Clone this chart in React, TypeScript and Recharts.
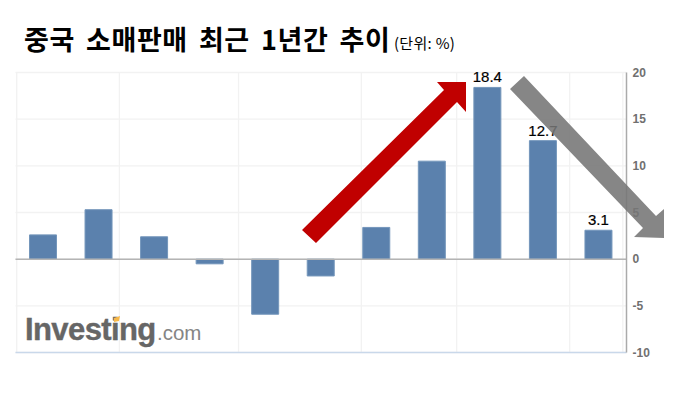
import React from 'react';
import { BarChart, Bar, XAxis, YAxis, CartesianGrid, ReferenceLine, LabelList } from 'recharts';

const months = ['22.07', '22.08', '22.09', '22.10', '22.11', '22.12', '23.02', '23.03', '23.04', '23.05', '23.06'];
const values = [2.6, 5.3, 2.4, -0.5, -5.9, -1.8, 3.4, 10.5, 18.4, 12.7, 3.1];
const shownLabels = [null, null, null, null, null, null, null, null, '18.4', '12.7', '3.1'];
const yTicks = [-10, -5, 0, 5, 10, 15, 20];
const gridFractions = [0.002, 0.17, 0.365, 0.566, 0.722, 0.907, 0.994];

const data = months.map((m, i) => ({ month: m, value: values[i], label: shownLabels[i] }));

const W = 690;
const H = 407;
const font = '"Liberation Sans", Arial, sans-serif';

export default function App() {
  return (
    <div style={{ position: 'absolute', left: 0, top: 0, width: W, height: H, background: '#fff', overflow: 'hidden' }}>
      <div style={{ position: 'absolute', left: 24, top: 22, fontFamily: '"Noto Sans CJK KR", sans-serif', fontWeight: 700, fontSize: 27, lineHeight: '34px', letterSpacing: 0.6, color: '#000', whiteSpace: 'pre', wordSpacing: 4.4 }}>
        중국 소매판매 최근 1년간 추이
      </div>
      <div style={{ position: 'absolute', left: 394, top: 33, fontFamily: '"Noto Sans CJK KR", sans-serif', fontSize: 15, lineHeight: '20px', letterSpacing: 0.3, color: '#000', whiteSpace: 'pre' }}>
        (단위: %)
      </div>
      <BarChart
        width={W}
        height={H}
        data={data}
        margin={{ top: 72.5, right: 0, bottom: 54.5, left: 15.5 }}
        barCategoryGap="25%"
        style={{ position: 'absolute', left: 0, top: 0 }}
      >
        <CartesianGrid
          stroke="#f2f2f2"
          strokeWidth={1.3}
          verticalCoordinatesGenerator={({ offset }: any) => gridFractions.map((f) => offset.left + f * offset.width)}
        />
        <XAxis dataKey="month" hide />
        <YAxis
          orientation="right"
          domain={[-10, 20]}
          ticks={yTicks}
          interval={0}
          width={63.5}
          axisLine={{ stroke: '#aaaaaa', strokeWidth: 1.5 }}
          tickLine={false}
          tickMargin={0}
          tick={{ fill: '#707070', fontSize: 12, fontWeight: 700, fontFamily: font, textAnchor: 'start' }}
        />
        <ReferenceLine y={0} stroke="#b4b4b4" strokeWidth={1.5} />
        <ReferenceLine y={-10} stroke="#c9d8ea" strokeWidth={1.5} />
        <Bar dataKey="value" fill="#5b81ad" stroke="#7496bb" strokeWidth={1} barSize={27} isAnimationActive={false}>
          <LabelList dataKey="label" position="top" offset={5} fill="#000" fontSize={15} fontFamily={font} stroke="#000" strokeWidth={0.2} />
        </Bar>
      </BarChart>
      <svg width={W} height={H} style={{ position: 'absolute', left: 0, top: 0, pointerEvents: 'none' }}>
        <polygon points="302,230 444,90 437,82 466,82 466,112 457,102 316,243" fill="#c00000" />
        <polygon points="510,89 524,76 656,216 664,209 664,238 634,237 643,228" fill="#757575" fillOpacity={0.88} />
        <text x={25} y={340} fontFamily={font} fontWeight={700} fontSize={31} fill="#666666" stroke="#666666" strokeWidth={0.4} letterSpacing={-0.6}>Investing</text>
        <text x={157} y={340} fontFamily={font} fontSize={20.5} fill="#858585">.com</text>
        <polygon points="114,318 120,316 119,321 114,322" fill="#f7b849" />
      </svg>
    </div>
  );
}
